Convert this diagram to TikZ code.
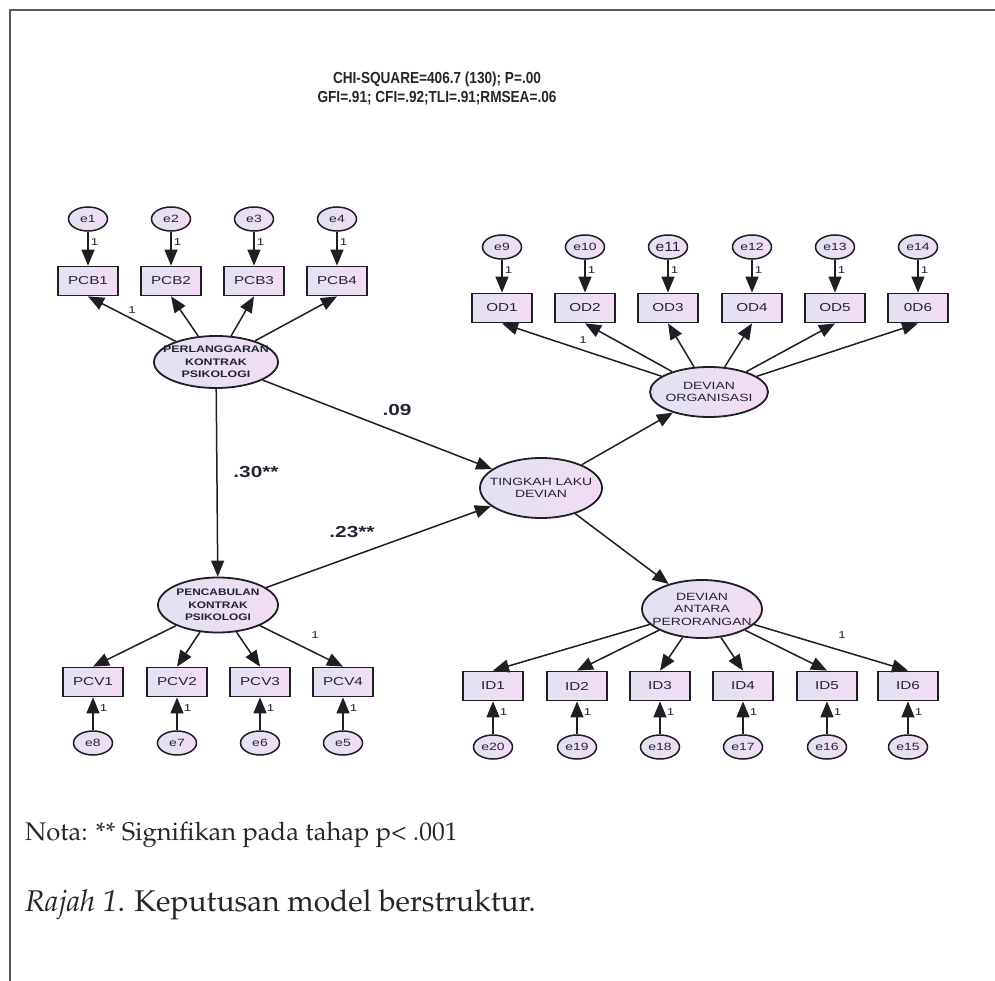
\documentclass[tikz,border=0pt]{standalone}
\usepackage[T1]{fontenc}
\usepackage{fontspec}
\usetikzlibrary{arrows.meta,shapes.geometric}
\newfontfamily\amos{Liberation Sans}
\newcommand{\pala}{\fontencoding{T1}\fontfamily{ppl}\selectfont}
\newcommand{\wt}[2][1.33]{\scalebox{#1}[1]{#2}}
\definecolor{lavL}{RGB}{226,226,242}
\definecolor{lavR}{RGB}{243,220,243}
\definecolor{edgec}{RGB}{30,30,35}
\definecolor{txtc}{RGB}{35,35,50}
\tikzset{
  errn/.style={ellipse, draw=edgec, line width=1.5pt, left color=lavL, right color=lavR,
    minimum width=39pt, minimum height=24pt, inner sep=0pt, text=txtc,
    font=\amos\fontsize{10.5}{12}\selectfont},
  obsn/.style={rectangle, draw=edgec, line width=1.8pt, left color=lavL, right color=lavR,
    minimum width=60pt, minimum height=29pt, inner sep=0pt, text=txtc,
    font=\amos\fontsize{11.5}{12}\selectfont},
  latn/.style={ellipse, draw=edgec, line width=1.8pt, left color=lavL, right color=lavR,
    inner sep=0pt},
  lattxt/.style={align=center, text=txtc, inner sep=0pt,
    font=\amos\fontsize{10.5}{12.5}\selectfont},
  latbold/.style={align=center, text=txtc, inner sep=0pt,
    font=\amos\bfseries\fontsize{9.5}{12.5}\selectfont},
  arr/.style={-{Triangle[length=16pt,width=13pt]}, line width=1.5pt, draw=edgec},
  onel/.style={font=\amos\fontsize{10}{12}\selectfont, text=txtc, inner sep=1pt},
  coef/.style={font=\amos\bfseries\fontsize{16}{18}\selectfont, text=txtc, inner sep=0pt},
}
\begin{document}
\begin{tikzpicture}[x=1pt,y=-1pt]
\useasboundingbox (0,0) rectangle (995,981);
% frame
\draw[line width=2.2pt, black!65] (10,981) -- (10,10) -- (995,10);
% header
\node[font=\amos\bfseries\fontsize{16}{19}\selectfont, align=center, text=black!85] (hdr) at (437,88)
  {\scalebox{0.85}[1]{CHI-SQUARE=406.7 (130); P=.00}\\\scalebox{0.85}[1]{GFI=.91; CFI=.92;TLI=.91;RMSEA=.06}};

% latent variables (shape + text)
\node[latn, minimum width=124pt, minimum height=52pt] (pk) at (216,362) {};
\node[latbold] (pkt) at (pk.center) {\wt[1.3]{PERLANGGARAN}\\\wt[1.3]{KONTRAK}\\\wt[1.3]{PSIKOLOGI}};
\node[latn, minimum width=120pt, minimum height=55pt] (pc) at (218,605) {};
\node[latbold] (pct) at (pc.center) {\wt[1.25]{PENCABULAN}\\\wt[1.25]{KONTRAK}\\\wt[1.25]{PSIKOLOGI}};
\node[latn, minimum width=122pt, minimum height=60pt] (tld) at (541,488) {};
\node[lattxt] (tldt) at (tld.center) {\wt{TINGKAH LAKU}\\\wt{DEVIAN}};
\node[latn, minimum width=118pt, minimum height=50pt] (dorg) at (709,392) {};
\node[lattxt] (dorgt) at (dorg.center) {\wt{DEVIAN}\\\wt{ORGANISASI}};
\node[latn, minimum width=120pt, minimum height=58pt] (dap) at (702,609) {};
\node[lattxt] (dapt) at (dap.center) {\wt{DEVIAN}\\\wt{ANTARA}\\\wt{PERORANGAN}};

% PCB group
\foreach \i/\x in {1/88,2/171,3/254,4/337} {
  \node[obsn] (pcb\i) at (\x,281) {\wt{PCB\i}};
  \node[errn] (e\i) at (\x,219) {\wt{e\i}};
  \draw[arr] (e\i) -- node[pos=0.3, right=1pt, onel] {\wt{1}} (pcb\i);
  \draw[arr] (pk) -- (pcb\i.south);
}
\node[onel] (l1a) at (132,310) {\wt{1}};

% PCV group
\foreach \i/\x/\e in {1/93/8,2/177/7,3/260/6,4/343/5} {
  \node[obsn] (pcv\i) at (\x,682) {\wt{PCV\i}};
  \node[errn] (e\e) at (\x,743) {\wt{e\e}};
  \draw[arr] (e\e) -- node[pos=0.68, right=5pt, onel] {\wt{1}} (pcv\i);
  \draw[arr] (pc) -- (pcv\i.north);
}
\node[onel] (l1b) at (315,635) {\wt{1}};

% OD group
\foreach \i/\x/\e in {1/502/9,2/585/10,3/668/11,4/752/12,5/835/13,6/918/14} {
  \node[obsn] (od\i) at (\x,308) {\wt{\ifnum\i=6 0D6\else OD\i\fi}};
  \draw[arr] (dorg) -- (od\i.south);
}
\foreach \x/\e in {502/9,585/10,752/12,835/13,918/14} {
  \node[errn] (e\e) at (\x,247) {\wt{e\e}};
}
\node[errn, font=\amos\fontsize{13.5}{14}\selectfont] (e11) at (668,247) {\wt[1.15]{e11}};
\foreach \i/\e in {1/9,2/10,3/11,4/12,5/13,6/14} {
  \draw[arr] (e\e) -- node[pos=0.3, right=1pt, onel] {\wt{1}} (od\i);
}
\node[onel] (l1c) at (583,340) {\wt{1}};

% ID group
\foreach \i/\x/\e in {1/493/20,2/577/19,3/660/18,4/743/17,5/827/16,6/908/15} {
  \node[obsn] (id\i) at (\x,686) {\wt{ID\i}};
  \node[errn] (e\e) at (\x,747) {\wt{e\e}};
  \draw[arr] (e\e) -- node[pos=0.68, right=5pt, onel] {\wt{1}} (id\i);
  \draw[arr] (dap) -- (id\i.north);
}
\node[onel] (l1d) at (842,635) {\wt{1}};

% structural paths
\draw[arr] (pk) -- (pc);
\draw[arr] (pk) -- (tld);
\draw[arr] (pc) -- (tld);
\draw[arr] (tld) -- (dorg);
\draw[arr] (tld) -- (dap);
\node[coef] (c30) at (256,472) {\wt[1.3]{.30**}};
\node[coef] (c09) at (397,410) {\wt[1.3]{.09}};
\node[coef] (c23) at (352,532) {\wt[1.3]{.23**}};

% footer
\node[anchor=base west, font=\pala\fontsize{25.5}{32}\selectfont, text=black!85, inner sep=0pt] (nota) at (25,840)
  {Nota: ** Signifikan pada tahap p< .001};
\node[anchor=base west, font=\pala\fontsize{30}{32}\selectfont, text=black!85, inner sep=0pt] (rajah) at (25,911)
  {\textit{Rajah 1}. Keputusan model berstruktur.};
\end{tikzpicture}
\end{document}
